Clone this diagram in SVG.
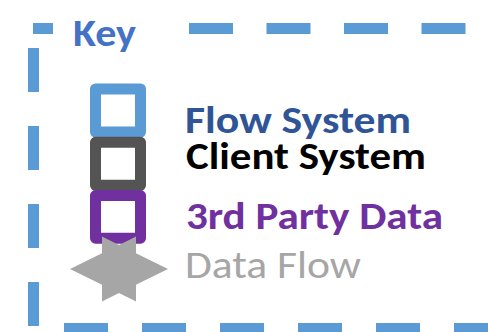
<svg xmlns="http://www.w3.org/2000/svg" width="488" height="332" viewBox="0 0 488 332">
  <style>
    .frame { fill: none; stroke: #5B9BD5; stroke-width: 11; }
    .swatch { fill: #FFFFFF; stroke-width: 11; stroke-linejoin: round; }
    .label { font-family: Carlito, Calibri, Lato, "Open Sans", sans-serif; font-size: 38px; }
    .bold { font-weight: bold; }
  </style>
  <rect width="488" height="332" fill="#FFFFFF"/>

  <!-- dashed key border -->
  <g id="border">
    <path class="frame" d="M33 28.5 H53"/>
    <path class="frame" d="M189 28.5 H488" stroke-dasharray="44 33.5"/>
    <path class="frame" d="M33.5 48 V332" stroke-dasharray="44 34"/>
    <path class="frame" d="M64 328.5 H488" stroke-dasharray="44 34"/>
  </g>

  <g id="key-title">
    <text class="label bold" x="73" y="45.7" fill="#4472C4" textLength="63" lengthAdjust="spacingAndGlyphs">Key</text>
  </g>

  <g id="flow-system">
    <rect class="swatch" x="95.5" y="89" width="45" height="43" stroke="#5B9BD5"/>
    <text class="label bold" x="185" y="133.3" fill="#2F5597" textLength="226" lengthAdjust="spacingAndGlyphs">Flow System</text>
  </g>

  <g id="client-system">
    <rect class="swatch" x="95.5" y="142.3" width="45" height="43" stroke="#545454"/>
    <text class="label bold" x="186" y="169" fill="#000000" textLength="240" lengthAdjust="spacingAndGlyphs">Client System</text>
  </g>

  <g id="third-party-data">
    <rect class="swatch" x="95.5" y="195.6" width="45" height="42.6" stroke="#7030A0"/>
    <text class="label bold" x="186" y="229" fill="#7030A0" textLength="257" lengthAdjust="spacingAndGlyphs">3rd Party Data</text>
  </g>

  <g id="data-flow">
    <polygon fill="#A6A6A6" points="70,269 102,253.2 102,236.5 119,244.9 136,236.5 136,253.2 168,269 136,284.8 136,301.5 119,293.1 102,301.5 102,284.8"/>
    <text class="label" x="185" y="278.3" fill="#A6A6A6" textLength="176" lengthAdjust="spacingAndGlyphs">Data Flow</text>
  </g>
</svg>
